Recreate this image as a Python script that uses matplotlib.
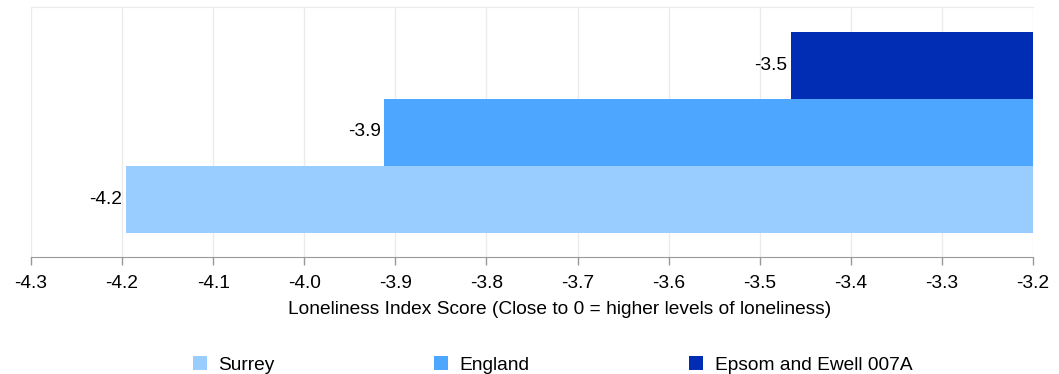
import numpy as np
import matplotlib.pyplot as plt
from matplotlib.patches import Patch

plt.rcParams['font.family'] = ['Liberation Sans', 'DejaVu Sans']

# Data
series = ['Surrey', 'England', 'Epsom and Ewell 007A']
values = [-4.196, -3.912, -3.466]
colors = ['#99CCFF', '#4DA6FF', '#002DB3']
baseline = -3.2
ticks = np.round(np.arange(-4.3, -3.15, 0.1), 1)

fs = 13.8

fig = plt.figure(figsize=(10.59, 3.74), dpi=100)
ax = fig.add_axes([31 / 1059, 1 - 257 / 374, 1002 / 1059, 250 / 374])

bar_h = 0.268
offsets = [-bar_h, 0, bar_h]
for name, val, col, off in zip(series, values, colors, offsets):
    ax.barh(off, val - baseline, left=baseline, height=bar_h, color=col,
            edgecolor='none', zorder=2)
    ax.text(val - 0.004, off, f'{val:.1f}', ha='right', va='center',
            fontsize=fs, color='#000000', zorder=3)

ax.set_xlim(-4.3, -3.2)
ax.set_ylim(-0.5, 0.5)
ax.set_xticks(ticks)
ax.set_xticklabels([f'{t:.1f}' for t in ticks], fontsize=fs)
ax.set_yticks([])
ax.grid(axis='x', color='#EBEBEB', linewidth=1, zorder=0)
for s in ['left', 'right']:
    ax.spines[s].set_visible(False)
ax.spines['top'].set_color('#EBEBEB')
ax.spines['bottom'].set_color('#999999')
ax.tick_params(axis='x', colors='#999999', length=6, width=1, labelcolor='#000000', pad=7)
ax.set_xlabel('Loneliness Index Score (Close to 0 = higher levels of loneliness)',
              fontsize=fs)
ax.xaxis.set_label_coords((559.5 - 31) / 1002, -(301 - 257) / 250)

handles = [Patch(facecolor=c, edgecolor='none') for c in colors]
fig.legend(handles, series, loc='center left', bbox_to_anchor=(183 / 1059, 1 - 365 / 374),
           ncol=3, frameon=False, fontsize=fs, handlelength=0.75, handleheight=0.75,
           columnspacing=8.3, handletextpad=0.6, borderpad=0)

fig.savefig('out.png', dpi=100)
